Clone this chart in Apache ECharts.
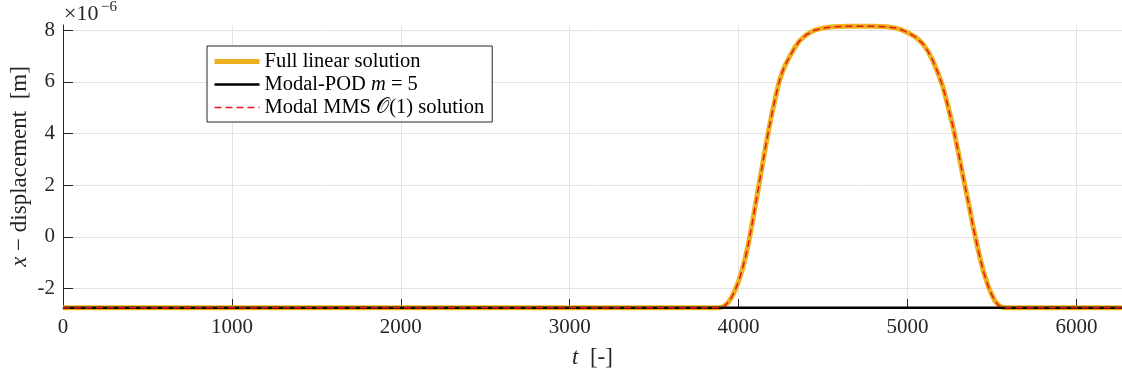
<!DOCTYPE html>
<html>
<head>
<meta charset="utf-8">
<script src="https://cdn.jsdelivr.net/npm/echarts@6/dist/echarts.min.js"></script>
<style>html,body{margin:0;padding:0;background:#fff}#c{width:1122px;height:375px}</style>
</head>
<body>
<div id="c"></div>
<script>
// time samples [-]
const tFull = [0, 3880, 3900, 3920, 3940, 3960, 3980, 4000, 4020, 4040, 4060, 4080, 4100, 4120, 4140, 4160, 4180, 4200, 4220, 4240, 4260, 4280, 4300, 4330, 4360, 4400, 4450, 4500, 4560, 4650, 4800, 4880, 4930, 4970, 5010, 5050, 5090, 5120, 5150, 5180, 5210, 5240, 5270, 5300, 5330, 5360, 5390, 5420, 5450, 5480, 5500, 5520, 5540, 5560, 5580, 6270];
// x-displacement, units of 1e-6 m
const fullLinear = [-2.74, -2.74, -2.72, -2.65, -2.52, -2.32, -2.05, -1.72, -1.3, -0.8, -0.2, 0.5, 1.25, 2.0, 2.75, 3.5, 4.2, 4.85, 5.45, 6.0, 6.4, 6.7, 6.95, 7.3, 7.58, 7.82, 8.0, 8.08, 8.13, 8.15, 8.15, 8.13, 8.08, 8.0, 7.88, 7.72, 7.48, 7.2, 6.82, 6.35, 5.8, 5.05, 4.25, 3.3, 2.3, 1.35, 0.35, -0.55, -1.35, -1.95, -2.25, -2.5, -2.65, -2.72, -2.74, -2.74];
const mmsO1 = [-2.74, -2.74, -2.72, -2.65, -2.52, -2.32, -2.05, -1.72, -1.3, -0.8, -0.2, 0.5, 1.25, 2.0, 2.75, 3.5, 4.2, 4.85, 5.45, 6.0, 6.4, 6.7, 6.95, 7.3, 7.58, 7.82, 8.0, 8.08, 8.13, 8.15, 8.15, 8.13, 8.08, 8.0, 7.88, 7.72, 7.48, 7.2, 6.82, 6.35, 5.8, 5.05, 4.25, 3.3, 2.3, 1.35, 0.35, -0.55, -1.35, -1.95, -2.25, -2.5, -2.65, -2.72, -2.74, -2.74];
const tPod = [0, 1000, 2000, 3000, 4000, 5000, 6000, 6270];
const modalPod = [-2.74, -2.74, -2.74, -2.74, -2.74, -2.74, -2.74, -2.74];
const xTicks = [0, 1000, 2000, 3000, 4000, 5000, 6000];
const yTicks = [-2, 0, 2, 4, 6, 8];
const seriesNames = ['Full linear solution', 'Modal-POD m = 5', 'Modal MMS O(1) solution'];

const F = '"Liberation Serif", "DejaVu Serif", serif';
const zip = (a, b) => a.map((v, i) => [v, b[i]]);

const chart = echarts.init(document.getElementById('c'), null, {renderer: 'canvas'});
chart.setOption({
  animation: false,
  backgroundColor: '#fff',
  grid: {left: 63, right: 0, top: 25, bottom: 67, containLabel: false, outerBoundsMode: 'none'},
  xAxis: {
    type: 'value', min: 0, max: 6270,
    name: '{i|t}  [-]', nameLocation: 'middle', nameGap: 38, nameMoveOverlap: false,
    nameTextStyle: {fontFamily: F, fontSize: 23, color: '#262626',
      rich: {i: {fontFamily: F, fontSize: 23, fontStyle: 'italic', color: '#262626'}}},
    axisLine: {onZero: false, lineStyle: {color: '#262626', width: 1}},
    axisTick: {inside: true, length: 9, customValues: xTicks, lineStyle: {color: '#262626'}},
    axisLabel: {customValues: xTicks, fontFamily: F, fontSize: 21, color: '#262626', margin: 9,
      formatter: v => String(v)},
    splitLine: {show: true, lineStyle: {color: '#e3e3e3', width: 1}}
  },
  yAxis: {
    type: 'value', min: -2.75, max: 8.2,
    name: '{i|x} \u2212 displacement  [m]', nameLocation: 'middle', nameGap: 32, nameRotate: 90,
    nameMoveOverlap: false,
    nameTextStyle: {fontFamily: F, fontSize: 23, color: '#262626',
      rich: {i: {fontFamily: F, fontSize: 23, fontStyle: 'italic', color: '#262626'}}},
    axisLine: {show: true, onZero: false, lineStyle: {color: '#262626', width: 1}},
    axisTick: {show: true, inside: true, length: 10, customValues: yTicks, lineStyle: {color: '#262626'}},
    axisLabel: {customValues: yTicks, fontFamily: F, fontSize: 21, color: '#262626', margin: 8,
      formatter: v => String(v)},
    splitLine: {show: true, lineStyle: {color: '#e3e3e3', width: 1}}
  },
  legend: {
    orient: 'vertical', left: 207, top: 46,
    padding: [5, 8, 4, 5], itemGap: 2,
    itemWidth: 45, itemHeight: 20,
    backgroundColor: '#fff', borderColor: '#262626', borderWidth: 1, borderRadius: 0,
    itemStyle: {opacity: 0},
    data: [
      {name: seriesNames[0], lineStyle: {width: 5}},
      {name: seriesNames[1], lineStyle: {width: 2.5}},
      {name: seriesNames[2], lineStyle: {width: 1.5, type: [7, 4]}}
    ],
    formatter: function (name) {
      if (name === seriesNames[1]) return 'Modal-POD {i|m} = 5';
      if (name === seriesNames[2]) return 'Modal MMS {c|\uD835\uDCAA}(1) solution';
      return name;
    },
    textStyle: {fontFamily: F, fontSize: 20.5, color: '#000',
      rich: {i: {fontFamily: F, fontSize: 20.5, fontStyle: 'italic', color: '#000'},
             c: {fontSize: 20.5, color: '#000'}}}
  },
  graphic: [
    {type: 'text', left: 64, top: 3, style: {text: '\u00d710', font: '22px ' + F, fill: '#262626'}},
    {type: 'text', left: 101, top: 0, style: {text: '\u22126', font: '15px ' + F, fill: '#262626'}}
  ],
  series: [
    {name: seriesNames[0], type: 'line', data: zip(tFull, fullLinear), showSymbol: false, symbol: 'none',
      clip: false, lineStyle: {color: '#EDB120', width: 5}, itemStyle: {color: '#EDB120'}, z: 2},
    {name: seriesNames[1], type: 'line', data: zip(tPod, modalPod), showSymbol: false, symbol: 'none',
      clip: false, lineStyle: {color: '#000', width: 2.5}, itemStyle: {color: '#000'}, z: 3},
    {name: seriesNames[2], type: 'line', data: zip(tFull, mmsO1), showSymbol: false, symbol: 'none',
      clip: false, lineStyle: {color: '#e8141a', width: 1.5, type: [7, 4]}, itemStyle: {color: '#e8141a'}, z: 4}
  ]
});
</script>
</body>
</html>
